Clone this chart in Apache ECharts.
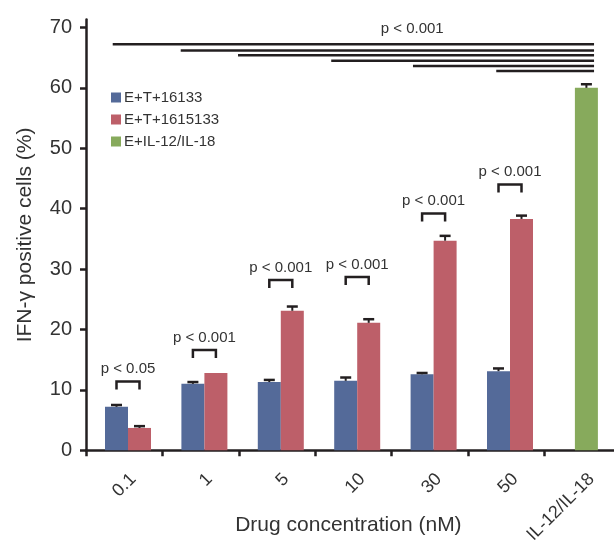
<!DOCTYPE html>
<html>
<head>
<meta charset="utf-8">
<script src="https://cdn.jsdelivr.net/npm/echarts@6/dist/echarts.min.js"></script>
<style>
  html, body { margin: 0; padding: 0; background: #fff; }
  #chart { width: 614px; height: 541px; }
</style>
</head>
<body>
<div id="chart"></div>
<script>
// data
const categories = ["0.1", "1", "5", "10", "30", "50", "IL-12/IL-18"];
const yTicks = [0, 10, 20, 30, 40, 50, 60, 70];
const blueValues = [7.2, 11.0, 11.3, 11.5, 12.6, 13.1, null];
const blueErrors = [0.3, 0.3, 0.35, 0.55, 0.2, 0.45, null];
const redValues = [3.7, 12.8, 23.1, 21.1, 34.7, 38.3, null];
const redErrors = [0.3, 0, 0.7, 0.6, 0.8, 0.55, null];
const greenValues = [null, null, null, null, null, null, 60.0];
const greenErrors = [null, null, null, null, null, null, 0.6];
const pairLabels = ["p < 0.05", "p < 0.001", "p < 0.001", "p < 0.001", "p < 0.001", "p < 0.001"];
const bracketLevels = [11.4, 16.6, 28.2, 28.7, 39.2, 44.0];
const topLineStarts = [-0.2, 0.69, 1.44, 2.66, 3.73, 4.82];
const topLineEnd = 6.1;
const topLineLevels = [67.2, 66.2, 65.4, 64.5, 63.6, 62.8];
const topLabel = "p < 0.001";
const topLabelPos = [3.72, 68.8];
const seriesNames = ["E+T+16133", "E+T+1615133", "E+IL-12/IL-18"];

const font = "'Liberation Sans', Arial, sans-serif";
const ink = "#231f20";
const textColor = "#333";
const barWidth = 23;
const colors = ["#546a99", "#bd5f69", "#87aa5c"];

var chart = echarts.init(document.getElementById("chart"));

const errorBars = (values, errors, xAxisIndex, shift) => ({
  type: "custom",
  xAxisIndex: xAxisIndex,
  yAxisIndex: 1,
  silent: true,
  z: 3,
  data: values
    .map((v, i) => [i, v, errors[i]])
    .filter((d) => d[1] != null && d[2] > 0),
  renderItem: function (params, api) {
    var base = api.coord([api.value(0), api.value(1)]);
    var top = api.coord([api.value(0), api.value(1) + api.value(2)]);
    var x = base[0] + shift;
    return {
      type: "group",
      children: [
        { type: "line", shape: { x1: x, y1: base[1], x2: x, y2: top[1] }, style: { stroke: ink, lineWidth: 2 } },
        { type: "line", shape: { x1: x - 5.5, y1: top[1], x2: x + 5.5, y2: top[1] }, style: { stroke: ink, lineWidth: 2.5 } },
      ],
    };
  },
});

let option = {
  animation: false,
  backgroundColor: "#fff",
  textStyle: { fontFamily: font },
  grid: [
    // visible axes
    { left: 86, top: 19.6, width: 534.8, height: 430.7, outerBoundsMode: "none" },
    // bars and annotations
    { left: 89.8, top: 19.6, width: 534.8, height: 430.7, outerBoundsMode: "none" },
    // rotated category labels
    { left: 95, top: 19.6, width: 534.8, height: 430.7, outerBoundsMode: "none" },
  ],
  legend: {
    data: seriesNames,
    orient: "vertical",
    left: 111,
    top: 90,
    padding: 0,
    itemWidth: 10,
    itemHeight: 10,
    itemGap: 7,
    icon: "rect",
    textStyle: { fontSize: 15, lineHeight: 15, color: textColor, fontFamily: font, padding: [0, 0, 0, -2] },
  },
  xAxis: [
    {
      gridIndex: 0,
      type: "category",
      data: categories,
      boundaryGap: true,
      axisLine: { lineStyle: { color: ink, width: 2.5 } },
      axisTick: { show: true, length: 6, lineStyle: { color: ink, width: 2.5 } },
      axisLabel: { show: false },
      name: "Drug concentration (nM)",
      nameLocation: "middle",
      nameGap: 64,
      nameMoveOverlap: false,
      nameTextStyle: { fontSize: 21, color: textColor, fontFamily: font, padding: [0, 10, 0, 0] },
    },
    { gridIndex: 1, type: "category", data: categories, show: false },
    { gridIndex: 1, type: "category", data: categories, show: false },
    { gridIndex: 1, type: "value", min: -0.5, max: 6.5, show: false },
    {
      gridIndex: 2,
      type: "category",
      data: categories,
      axisLine: { show: false },
      axisTick: { show: false },
      axisLabel: { show: true, interval: 0, rotate: 45, margin: 26, fontSize: 18, color: textColor, fontFamily: font },
    },
  ],
  yAxis: [
    {
      gridIndex: 0,
      type: "value",
      min: 0,
      max: 71.3,
      interval: 10,
      splitLine: { show: false },
      axisLine: { show: true, lineStyle: { color: ink, width: 2.5 } },
      axisTick: { show: true, length: 6, customValues: yTicks, lineStyle: { color: ink, width: 2.5 } },
      axisLabel: { customValues: yTicks, margin: 14, fontSize: 20, color: textColor, fontFamily: font },
      name: "IFN-γ positive cells (%)",
      nameLocation: "middle",
      nameGap: 50,
      nameMoveOverlap: false,
      nameTextStyle: { fontSize: 21, color: textColor, fontFamily: font },
    },
    { gridIndex: 1, type: "value", min: 0, max: 71.3, show: false },
    { gridIndex: 2, type: "value", min: 0, max: 71.3, show: false },
  ],
  series: [
    {
      name: seriesNames[0], type: "bar", xAxisIndex: 1, yAxisIndex: 1,
      barWidth: barWidth, barGap: "0%", data: blueValues, itemStyle: { color: colors[0] },
    },
    {
      name: seriesNames[1], type: "bar", xAxisIndex: 1, yAxisIndex: 1,
      barWidth: barWidth, barGap: "0%", data: redValues, itemStyle: { color: colors[1] },
    },
    {
      name: seriesNames[2], type: "bar", xAxisIndex: 2, yAxisIndex: 1,
      barWidth: barWidth, data: greenValues, itemStyle: { color: colors[2] },
    },
    errorBars(blueValues, blueErrors, 1, -barWidth / 2),
    errorBars(redValues, redErrors, 1, barWidth / 2),
    errorBars(greenValues, greenErrors, 2, 0),
    {
      // brackets between the pair, with the p value above
      type: "custom",
      xAxisIndex: 1,
      yAxisIndex: 1,
      silent: true,
      data: bracketLevels.map((v, i) => [i, v]),
      renderItem: function (params, api) {
        var c = api.coord([api.value(0), api.value(1)]);
        var h = barWidth / 2;
        return {
          type: "group",
          children: [
            {
              type: "polyline",
              shape: { points: [[c[0] - h, c[1] + 8], [c[0] - h, c[1]], [c[0] + h, c[1]], [c[0] + h, c[1] + 8]] },
              style: { stroke: ink, lineWidth: 2.5, fill: null },
            },
            {
              type: "text",
              style: {
                text: pairLabels[params.dataIndex], x: c[0], y: c[1] - 12.5,
                align: "center", verticalAlign: "middle",
                fontSize: 15, fontFamily: font, fill: textColor,
              },
            },
          ],
        };
      },
    },
    {
      // long comparison lines against IL-12/IL-18
      type: "custom",
      xAxisIndex: 3,
      yAxisIndex: 1,
      silent: true,
      data: topLineStarts.map((s, i) => [s, topLineEnd, topLineLevels[i]]),
      encode: { x: [0, 1], y: 2 },
      renderItem: function (params, api) {
        var a = api.coord([api.value(0), api.value(2)]);
        var b = api.coord([api.value(1), api.value(2)]);
        return { type: "line", shape: { x1: a[0], y1: a[1], x2: b[0], y2: b[1] }, style: { stroke: ink, lineWidth: 2.5 } };
      },
    },
    {
      type: "custom",
      xAxisIndex: 3,
      yAxisIndex: 1,
      silent: true,
      data: [topLabelPos],
      renderItem: function (params, api) {
        var p = api.coord([api.value(0), api.value(1)]);
        return {
          type: "text",
          style: {
            text: topLabel, x: p[0], y: p[1] - 5.5, align: "center", verticalAlign: "middle",
            fontSize: 15, fontFamily: font, fill: textColor,
          },
        };
      },
    },
  ],
};

chart.setOption(option);
</script>
</body>
</html>
